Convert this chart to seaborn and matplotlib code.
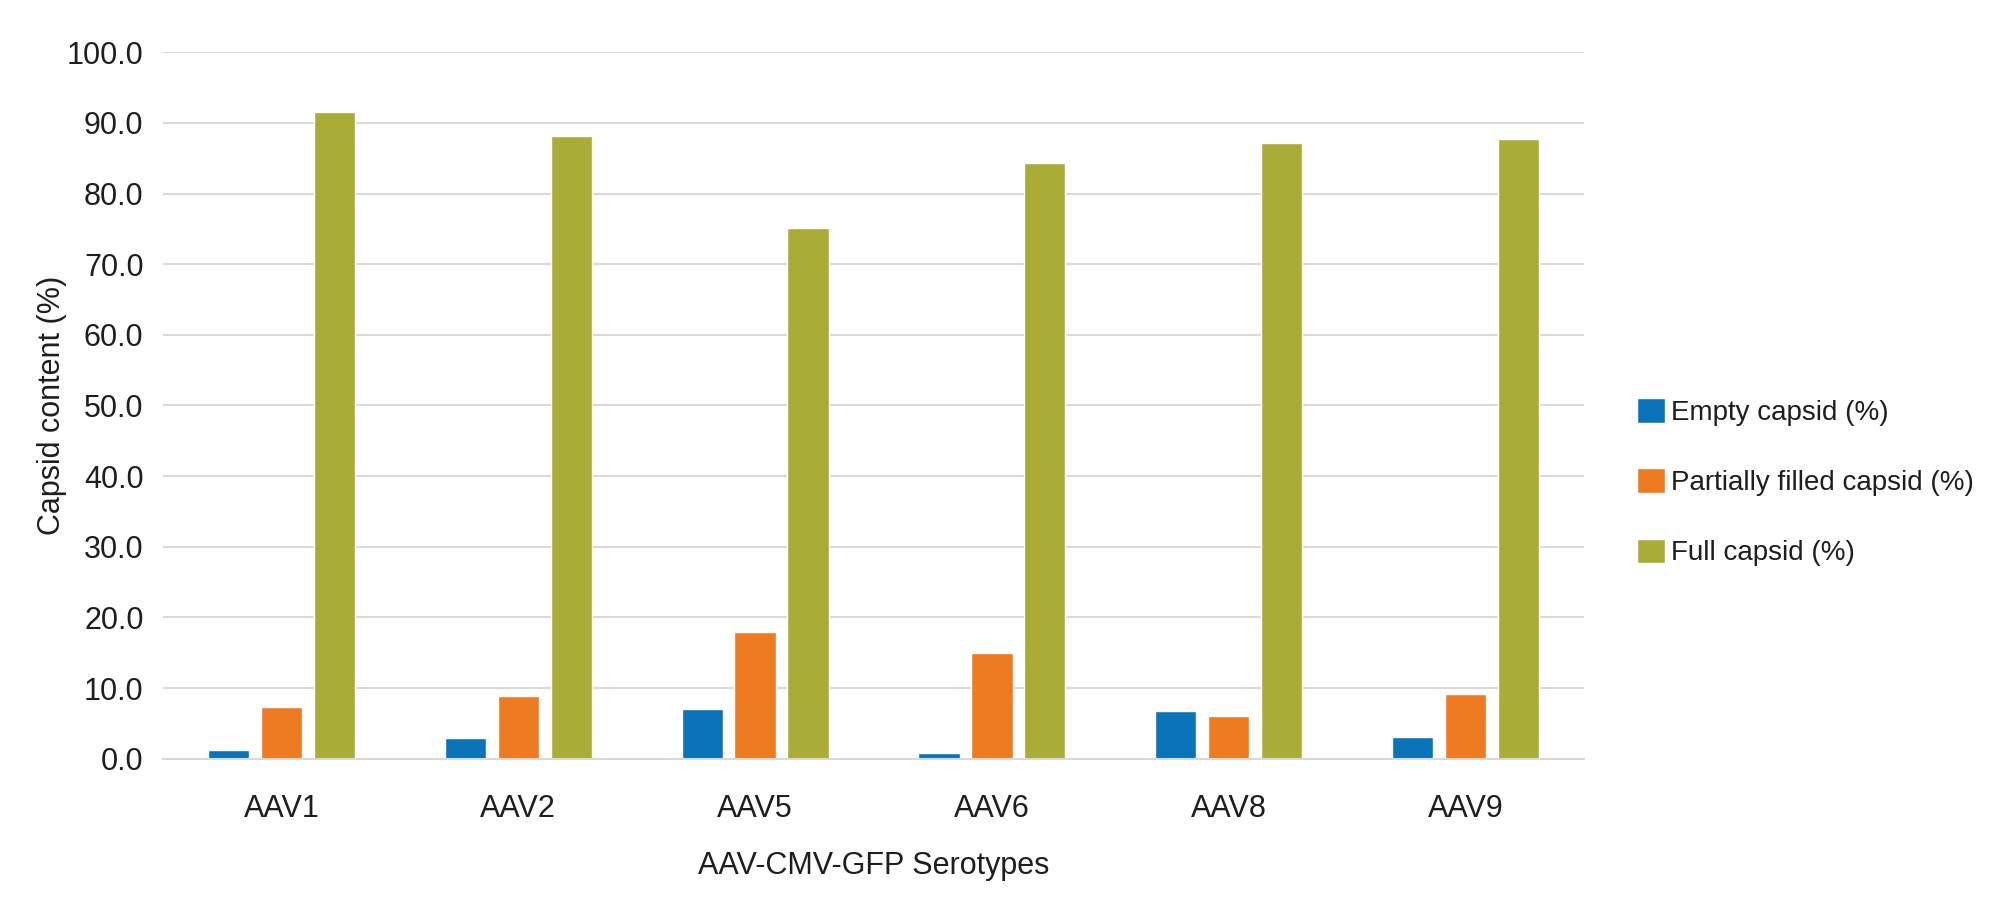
import pandas as pd
import numpy as np
import matplotlib
matplotlib.use('Agg')
import matplotlib.pyplot as plt
import seaborn as sns

# values
serotypes = ['AAV1', 'AAV2', 'AAV5', 'AAV6', 'AAV8', 'AAV9']
empty = [1.2, 2.9, 7.0, 0.8, 6.8, 3.1]
partial = [7.3, 8.9, 17.9, 14.9, 6.1, 9.2]
full = [91.5, 88.2, 75.1, 84.3, 87.1, 87.7]
series = ['Empty capsid (%)', 'Partially filled capsid (%)', 'Full capsid (%)']
colors = ['#0A73BA', '#EE7B22', '#AAAC38']

df = pd.DataFrame({'serotype': serotypes * 3,
                   'value': empty + partial + full,
                   'kind': np.repeat(series, len(serotypes))})

sns.set_theme(style='white')
plt.rcParams['font.family'] = ['Liberation Sans', 'DejaVu Sans']

fig, ax = plt.subplots(figsize=(20, 9.17), dpi=100)
fig.subplots_adjust(left=0.0815, right=0.792, top=0.943, bottom=0.1726)

sns.barplot(data=df, x='serotype', y='value', hue='kind', palette=colors,
            width=0.67, gap=0.22, saturation=1, ax=ax)

ax.set_ylim(0, 100)
ax.set_yticks(np.arange(0, 101, 10))
ax.set_yticklabels([f'{v:.1f}' for v in np.arange(0, 101, 10)])
ax.yaxis.grid(True, color='#D9D9D9', linewidth=1.5)
ax.set_axisbelow(True)
for s in ['top', 'right', 'left']:
    ax.spines[s].set_visible(False)
ax.spines['bottom'].set_color('#D9D9D9')
ax.spines['bottom'].set_linewidth(1.5)

txt = '#1E1E1E'
ax.tick_params(axis='x', length=0, pad=25.5, labelsize=22, colors=txt)
ax.tick_params(axis='y', length=0, pad=14, labelsize=22, colors=txt)
ax.set_xlabel('AAV-CMV-GFP Serotypes', fontsize=22, labelpad=19, color=txt)
ax.set_ylabel('Capsid content (%)', fontsize=22, labelpad=0, color=txt)

handles, labels = ax.get_legend_handles_labels()
ax.get_legend().remove()
fig.legend(handles, labels, loc='center left', bbox_to_anchor=(0.8115, 0.474),
           frameon=False, fontsize=20, handlelength=1.0, handleheight=1.0,
           handletextpad=0.22, labelspacing=1.52, borderpad=0, labelcolor=txt)

fig.savefig('out.png', dpi=100)
